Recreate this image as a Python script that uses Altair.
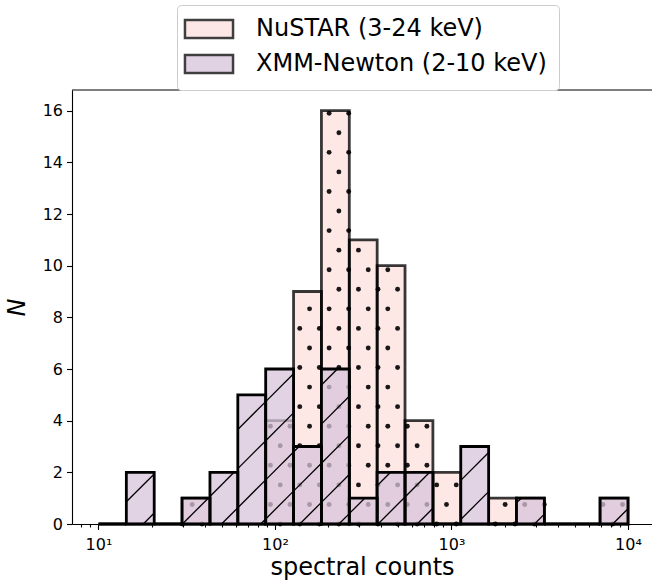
import numpy as np
import pandas as pd
import altair as alt

# ---------------- data ----------------
bin_log_start = 1.0          # histogram bins: 19 log-spaced bins from 10^1 to 10^4
bin_log_stop = 4.0
n_bins = 19
nustar_counts = [0, 0, 0, 1, 0, 0, 4, 9, 16, 11, 10, 4, 2, 0, 1, 1, 0, 0, 1]
xmm_counts = [0, 2, 0, 1, 2, 5, 6, 3, 6, 1, 2, 2, 0, 3, 0, 1, 0, 0, 1]
series_names = ["NuSTAR (3-24 keV)", "XMM-Newton (2-10 keV)"]
y_tick_values = [0, 2, 4, 6, 8, 10, 12, 14, 16]
x_major_ticks = [10, 100, 1000, 10000]
x_major_labels = ["10\u00b9", "10\u00b2", "10\u00b3", "10\u2074"]
x_title = "spectral counts"
y_title = "N"

# ---------------- layout / style ----------------
FONT = "DejaVu Sans"
PLOT_W, PLOT_H = 580, 434
PAD_L, PAD_T, PAD_B = 72, 90, 60
X_LOG_MIN = 0.85
PX_PER_DEC = 176.5
X_LOG_MAX = X_LOG_MIN + PLOT_W / PX_PER_DEC
Y_MAX = 16.8
PX_PER_N = PLOT_H / Y_MAX

NU_FILL = "#fce0de"
XMM_FILL = "#d7c4da"
FILL_ALPHA = 0.75
EDGE_W = 2.8

edges = np.linspace(bin_log_start, bin_log_stop, n_bins + 1)

rows = []
for name, counts in zip(series_names, [nustar_counts, xmm_counts]):
    for i, c in enumerate(counts):
        rows.append({"instrument": name, "lo": 10 ** edges[i], "hi": 10 ** edges[i + 1], "count": c})
bars = pd.DataFrame(rows)
nu_bars = bars[bars.instrument == series_names[0]]
xmm_bars = bars[bars.instrument == series_names[1]]

# ---------------- hatch patterns (decoration) ----------------
HATCH_PX = 19.56                      # hatch cell size in pixels
dot_dl = HATCH_PX / PX_PER_DEC        # in decades
dot_dy = HATCH_PX / PX_PER_N          # in counts
anchor_l = 3.2487                     # phase of the hatch lattice (log10 x)

dots = []
r = 0
while r * dot_dy <= Y_MAX:
    y = r * dot_dy
    shift = (r % 2) * dot_dl / 2
    for k in range(-60, 60):
        lx = anchor_l + shift + k * dot_dl
        if lx < edges[0] or lx >= edges[-1]:
            continue
        i = int(np.searchsorted(edges, lx, side="right") - 1)
        if 0 <= i < n_bins and nustar_counts[i] > 0 and y <= nustar_counts[i] + 1e-9:
            dots.append({"x": 10 ** lx, "y": y})
    r += 1
dots = pd.DataFrame(dots)

S = PX_PER_DEC / PX_PER_N             # 45 degree lines in pixel space
line_sp = 2 * dot_dy
segs = []
for i, h in enumerate(xmm_counts):
    if h <= 0:
        continue
    a, b = edges[i], edges[i + 1]
    for k in range(-80, 80):
        c = k * line_sp
        la = anchor_l - c / S
        lb = anchor_l + (h - c) / S
        s0, s1 = max(a, la), min(b, lb)
        if s1 - s0 > 1e-9:
            segs.append({"x": 10 ** s0, "y": S * (s0 - anchor_l) + c,
                         "x2": 10 ** s1, "y2": S * (s1 - anchor_l) + c})
segs = pd.DataFrame(segs)

# ---------------- scales / axes ----------------
xs = alt.Scale(type="log", domain=[10 ** X_LOG_MIN, 10 ** X_LOG_MAX], nice=False)
ys = alt.Scale(domain=[0, Y_MAX], nice=False)

all_x_ticks = [d * 10 ** p for p in range(0, 5) for d in range(1, 10)
               if X_LOG_MIN <= np.log10(d * 10 ** p) <= X_LOG_MAX]
label_expr = " : ".join(f"datum.value == {v} ? '{l}'" for v, l in zip(x_major_ticks, x_major_labels)) + " : ''"
major_test = "indexof([" + ",".join(str(v) for v in x_major_ticks) + "], datum.value) >= 0"

x_axis = alt.Axis(values=all_x_ticks, labelExpr=label_expr, labelOverlap=False, labelFlush=False,
                  tickSize={"condition": {"test": major_test, "value": 5.5}, "value": 3},
                  grid=False, labelFontSize=16, labelPadding=7, title=x_title,
                  titleFontSize=24, titleFontWeight="normal", titlePadding=3)
y_axis = alt.Axis(values=y_tick_values, grid=False, tickSize=5.5, labelFontSize=16, labelPadding=4,
                  title=y_title, titleFontSize=24, titleFontWeight="normal", titleFontStyle="italic",
                  titlePadding=13)

legend_path = "M-2.67,-1H2.67V1H-2.67Z"
fill_enc = alt.Fill("instrument:N", scale=alt.Scale(domain=series_names, range=[NU_FILL, XMM_FILL]),
                    legend=alt.Legend(title=None, orient="none", legendX=105, legendY=-85,
                                      symbolType=legend_path, symbolSize=324, symbolStrokeWidth=2.5,
                                      symbolStrokeColor="black", symbolOpacity=0.75,
                                      labelFont=FONT, labelFontSize=24, labelColor="black",
                                      labelLimit=0, labelOffset=35, symbolOffset=8, rowPadding=7,
                                      padding=12, strokeColor="#cccccc", fillColor="white",
                                      cornerRadius=4))


def X(field):
    return alt.X(field, scale=xs, axis=x_axis)


def Y(field):
    return alt.Y(field, scale=ys, axis=y_axis)


nu_fill = alt.Chart(nu_bars).mark_rect(fillOpacity=FILL_ALPHA, strokeWidth=0).encode(
    x=X("lo:Q"), x2="hi:Q", y=Y("count:Q"), y2=alt.datum(0), fill=fill_enc)

nu_dots = alt.Chart(dots).mark_circle(size=24, color="black", opacity=0.9).encode(
    x=X("x:Q"), y=Y("y:Q"))

nu_edge = alt.Chart(nu_bars).mark_rect(fillOpacity=0, stroke="black", strokeOpacity=0.78,
                                       strokeWidth=EDGE_W).encode(
    x=X("lo:Q"), x2="hi:Q", y=Y("count:Q"), y2=alt.datum(0))

xmm_fill = alt.Chart(xmm_bars).mark_rect(fillOpacity=FILL_ALPHA, strokeWidth=0).encode(
    x=X("lo:Q"), x2="hi:Q", y=Y("count:Q"), y2=alt.datum(0), fill=fill_enc)

xmm_lines = alt.Chart(segs).mark_rule(color="black", strokeWidth=1.3).encode(
    x=X("x:Q"), x2="x2:Q", y=Y("y:Q"), y2="y2:Q")

xmm_edge = alt.Chart(xmm_bars).mark_rect(fillOpacity=0, stroke="black", strokeWidth=EDGE_W).encode(
    x=X("lo:Q"), x2="hi:Q", y=Y("count:Q"), y2=alt.datum(0))

top_frame = alt.Chart(pd.DataFrame({"v": [0]})).mark_rule(color="black", strokeWidth=1.1).encode(
    x=alt.datum(10 ** X_LOG_MIN, scale=xs, axis=x_axis), x2=alt.datum(10 ** X_LOG_MAX),
    y=alt.value(0))

chart = alt.layer(nu_fill, nu_dots, nu_edge, xmm_fill, xmm_lines, xmm_edge, top_frame).properties(
    width=PLOT_W, height=PLOT_H,
    autosize=alt.AutoSizeParams(type="none"),
    padding={"left": PAD_L, "top": PAD_T, "right": 0, "bottom": PAD_B},
).configure(font=FONT).configure_view(stroke=None).configure_axis(
    domainColor="black", domainWidth=1.1, tickColor="black", tickWidth=1.1,
    labelColor="black", titleColor="black", labelFont=FONT, titleFont=FONT)

chart.save("out.html", embed_options={"renderer": "svg", "actions": False})
